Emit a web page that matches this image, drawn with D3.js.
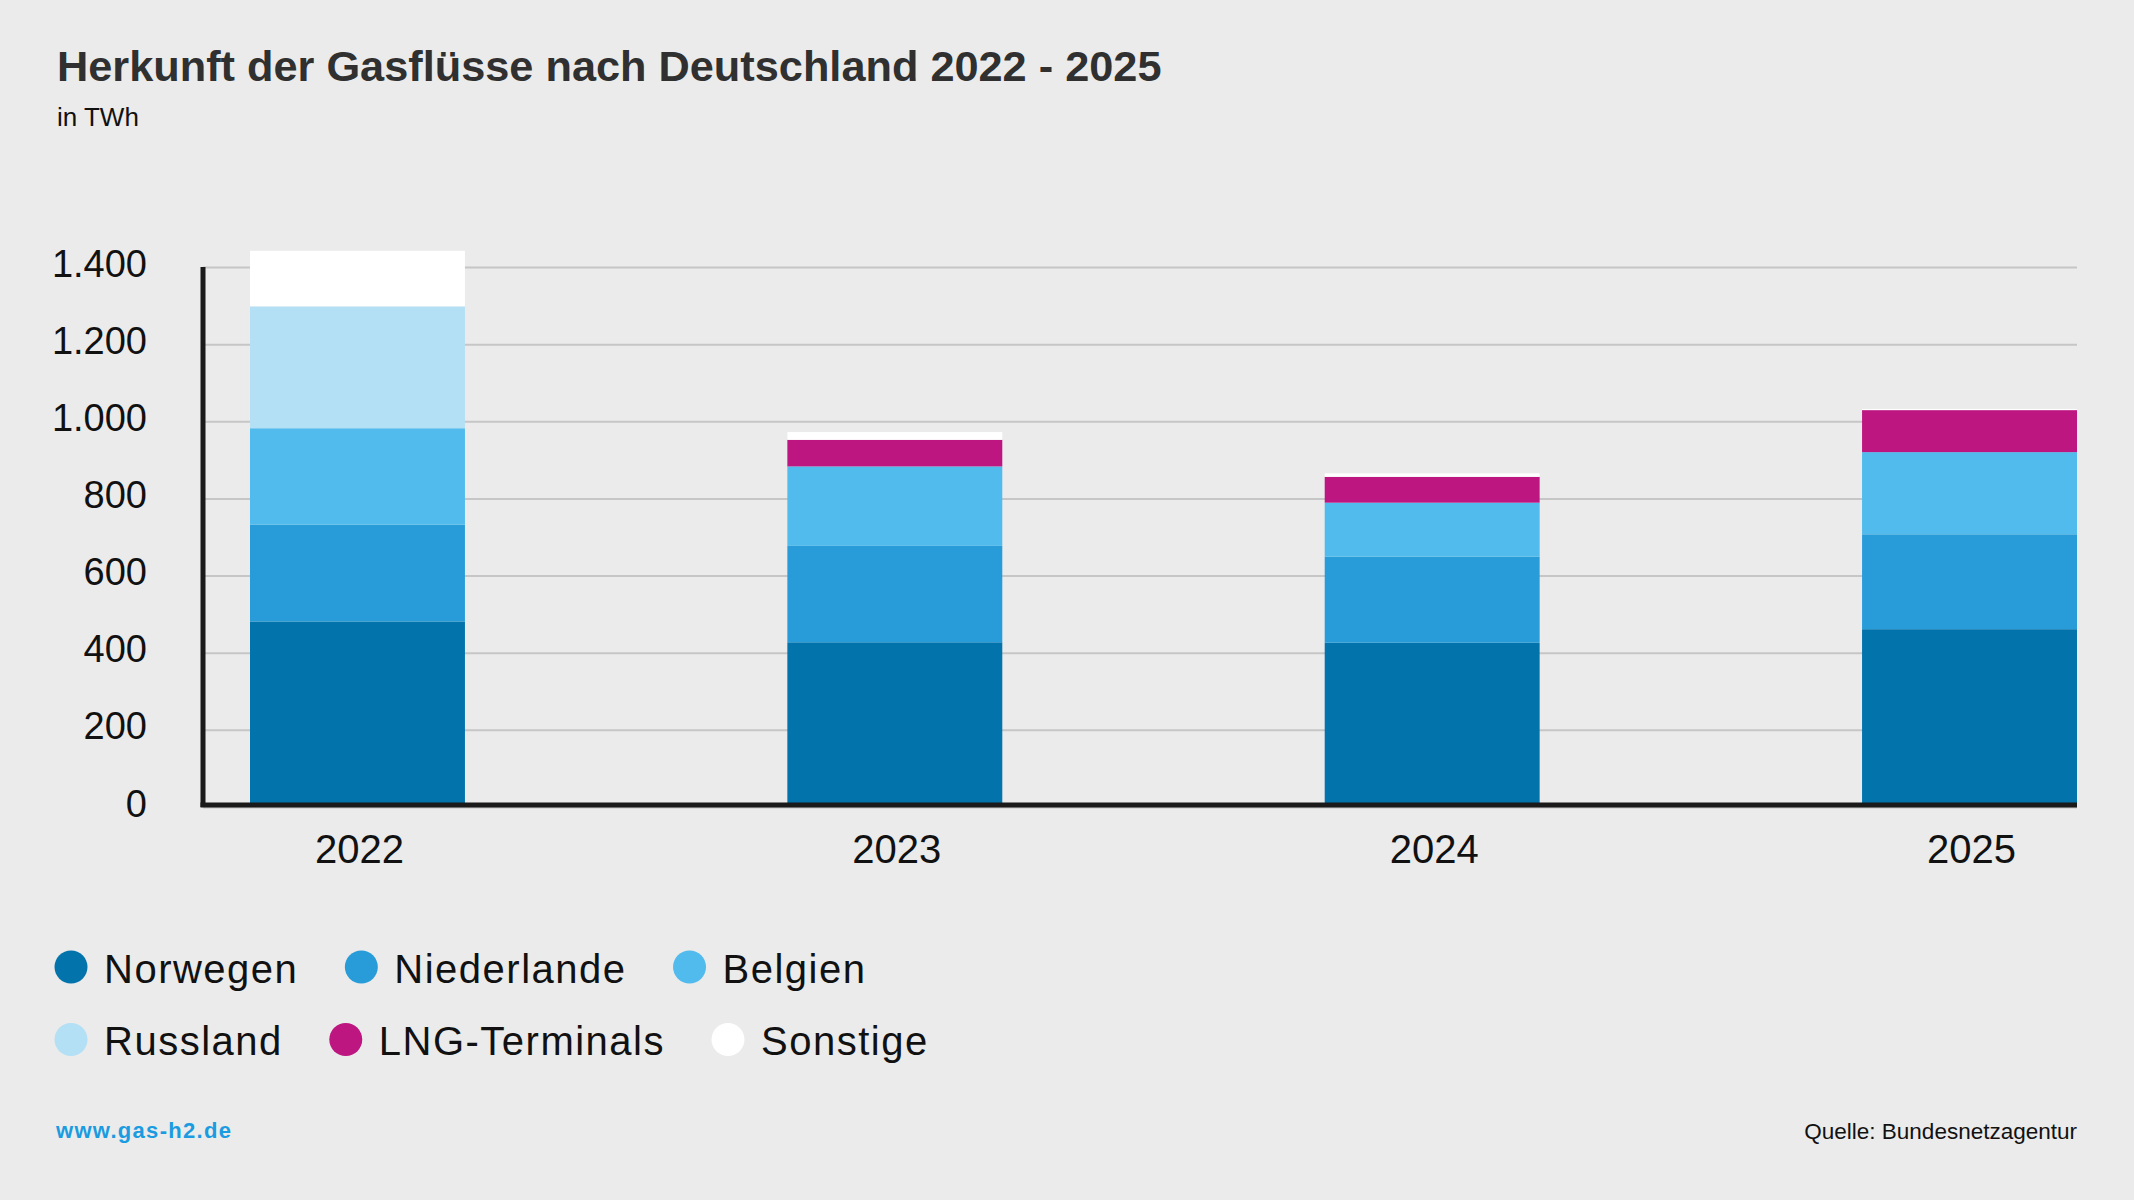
<!DOCTYPE html>
<html>
<head>
<meta charset="utf-8">
<script src="https://cdn.jsdelivr.net/npm/d3@7"></script>
<style>
  body { margin: 0; background: #ebebeb; }
  svg { display: block; font-family: "Liberation Sans", Arial, sans-serif; }
</style>
</head>
<body>
<div id="chart"></div>
<script>
// data (TWh)
var years = ['2022', '2023', '2024', '2025']
var sources = ['Norwegen', 'Niederlande', 'Belgien', 'Russland', 'LNG-Terminals', 'Sonstige']
var norwegen = [481, 427, 426, 461]
var niederlande = [251, 250, 223, 246]
var belgien = [250, 206, 140, 213]
var russland = [316, 0, 0, 0]
var lng = [0, 69, 67, 109]
var sonstige = [144, 20, 9, 3]
var yTicks = [0, 200, 400, 600, 800, 1000, 1200, 1400]

var colors = ['#0273ab', '#289cd9', '#50bbec', '#b3e0f5', '#bd1681', '#ffffff']

var width = 2134,
  height = 1200
var margin = { top: 267, right: 57, bottom: 393, left: 203 }

var svg = d3.select('#chart')
  .append('svg')
  .attr('width', width)
  .attr('height', height)

svg.append('rect')
  .attr('width', width)
  .attr('height', height)
  .attr('fill', '#ebebeb')

// build rows for the stack
var table = years.map((y, i) => ({
  year: y,
  'Norwegen': norwegen[i],
  'Niederlande': niederlande[i],
  'Belgien': belgien[i],
  'Russland': russland[i],
  'LNG-Terminals': lng[i],
  'Sonstige': sonstige[i]
}))
var stacked = d3.stack().keys(sources)(table)

var xScale = d3.scaleBand()
  .domain(years)
  .range([margin.left + 47, width - margin.right])
  .paddingInner(0.6)
  .paddingOuter(0)

var yScale = d3.scaleLinear()
  .domain([0, 1400])
  .range([height - margin.bottom, margin.top])

var de = d3.formatLocale({ decimal: ',', thousands: '.', grouping: [3], currency: ['', ' €'] })

// gridlines + y labels
var yAxis = d3.axisLeft(yScale)
  .tickValues(yTicks)
  .tickSize(-(width - margin.right - margin.left))
  .tickPadding(56)
  .tickFormat(de.format(',d'))

var yRender = svg.append('g')
  .attr('transform', `translate(${margin.left},0)`)
  .attr('class', 'y-axis')
  .call(yAxis)

yRender.select('.domain').remove()
yRender.selectAll('.tick line')
  .attr('stroke', '#c6c6c6')
  .attr('stroke-width', 2)
yRender.selectAll('.tick text')
  .attr('dy', '0.24em')
  .style('font-size', '38px')
  .style('fill', '#111')

// bars
var layers = svg.append('g').attr('class', 'bars')
  .selectAll('g')
  .data(stacked)
  .enter()
  .append('g')
  .attr('fill', (d, i) => colors[i])

layers.selectAll('rect')
  .data(d => d)
  .enter()
  .append('rect')
  .attr('x', d => xScale(d.data.year))
  .attr('width', xScale.bandwidth())
  .attr('y', d => yScale(d[1]))
  .attr('height', d => yScale(d[0]) - yScale(d[1]))

// axis lines
svg.append('line')
  .attr('x1', margin.left)
  .attr('x2', margin.left)
  .attr('y1', yScale(1400))
  .attr('y2', yScale(0))
  .attr('stroke', '#1a1a1a')
  .attr('stroke-width', 5)

svg.append('line')
  .attr('x1', margin.left - 2.5)
  .attr('x2', width - margin.right)
  .attr('y1', yScale(0) - 2)
  .attr('y2', yScale(0) - 2)
  .attr('stroke', '#1a1a1a')
  .attr('stroke-width', 5)

// x labels
var xAxis = d3.axisBottom(xScale).tickSize(0).tickPadding(28)
var xRender = svg.append('g')
  .attr('transform', `translate(2,${yScale(0)})`)
  .attr('class', 'x-axis')
  .call(xAxis)
xRender.select('.domain').remove()
xRender.selectAll('.tick text')
  .style('font-size', '40px')
  .style('fill', '#111')

// titles
svg.append('text')
  .attr('x', 57)
  .attr('y', 81)
  .style('font-size', '43.3px')
  .style('font-weight', 'bold')
  .style('fill', '#303030')
  .text('Herkunft der Gasflüsse nach Deutschland 2022 - 2025')

svg.append('text')
  .attr('x', 57)
  .attr('y', 126)
  .style('font-size', '26px')
  .style('fill', '#111')
  .text('in TWh')

// legend
var legendRows = [[0, 1, 2], [3, 4, 5]]
var legend = svg.append('g').attr('class', 'legend')
legendRows.forEach((row, r) => {
  var cx = 71
  var cy = 967 + r * 72.5
  row.forEach(i => {
    legend.append('circle')
      .attr('cx', cx)
      .attr('cy', cy)
      .attr('r', 16.5)
      .attr('fill', colors[i])
    var t = legend.append('text')
      .attr('x', cx + 33)
      .attr('y', cy + 15.5)
      .style('font-size', '40px')
      .style('letter-spacing', '1.5px')
      .style('fill', '#111')
      .text(sources[i])
    cx = cx + 33 + t.node().getComputedTextLength() + 63
  })
})

// footer
svg.append('text')
  .attr('x', 56)
  .attr('y', 1138)
  .style('font-size', '22px')
  .style('font-weight', 'bold')
  .style('letter-spacing', '1.3px')
  .style('fill', '#1b9be0')
  .text('www.gas-h2.de')

svg.append('text')
  .attr('x', width - margin.right)
  .attr('y', 1139)
  .attr('text-anchor', 'end')
  .style('font-size', '22.5px')
  .style('fill', '#111')
  .text('Quelle: Bundesnetzagentur')
</script>
</body>
</html>
